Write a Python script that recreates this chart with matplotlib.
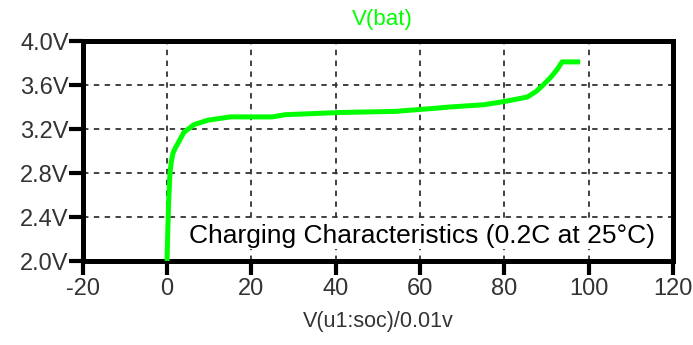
import numpy as np
import matplotlib.pyplot as plt

plt.rcParams['font.family'] = ['Liberation Sans', 'DejaVu Sans']
plt.rcParams['axes.unicode_minus'] = False

# --- data ---
soc = [0, 0.2, 0.4, 0.7, 1.0, 1.4, 2.0, 2.6, 4, 6.4, 9.7, 15, 25, 28, 41, 54,
       62.5, 67, 75, 80, 85.4, 87.5, 89.2, 91, 92.5, 93.7, 98]
vbat = [2.0, 2.3, 2.55, 2.8, 2.9, 2.98, 3.03, 3.07, 3.17, 3.24, 3.28, 3.31,
        3.31, 3.33, 3.35, 3.36, 3.385, 3.40, 3.42, 3.45, 3.49, 3.54, 3.60,
        3.67, 3.74, 3.81, 3.81]

xticks = [-20, 0, 20, 40, 60, 80, 100, 120]
yticks = [2.0, 2.4, 2.8, 3.2, 3.6, 4.0]
ytick_labels = ['2.0V', '2.4V', '2.8V', '3.2V', '3.6V', '4.0V']

# --- plot ---
fig = plt.figure(figsize=(6.93, 3.45), dpi=100)
ax = fig.add_axes([82.7 / 693, 1 - 261 / 345, 590.3 / 693, 220 / 345])

ax.plot(soc, vbat, color='#00ff00', lw=3.6, solid_capstyle='butt', zorder=3)

ax.set_xlim(-20, 120)
ax.set_ylim(2.0, 4.0)
ax.set_xticks(xticks)
ax.set_yticks(yticks)
ax.set_yticklabels(ytick_labels)

ax.grid(True, color='#333333', ls=(0, (3, 3)), lw=1.3)
for s in ax.spines.values():
    s.set_linewidth(3.6)
ax.tick_params(direction='out', length=10, width=3, labelsize=17,
               labelcolor='#333333')
ax.tick_params(axis='y', pad=0)
ax.tick_params(axis='x', pad=2)

ax.set_xlabel('V(u1:soc)/0.01v', fontsize=15.5, color='#333333', labelpad=8)
fig.text(382 / 693, 1 - 19 / 345, 'V(bat)', color='#00ff00', fontsize=16,
         ha='center', va='center')

ax.text(0.969, 0.115, 'Charging Characteristics (0.2C at 25\u00b0C)',
        transform=ax.transAxes, ha='right', va='center', fontsize=19,
        color='black', zorder=4,
        bbox=dict(facecolor='white', edgecolor='none', pad=1))

plt.savefig('out.png', dpi=100)
